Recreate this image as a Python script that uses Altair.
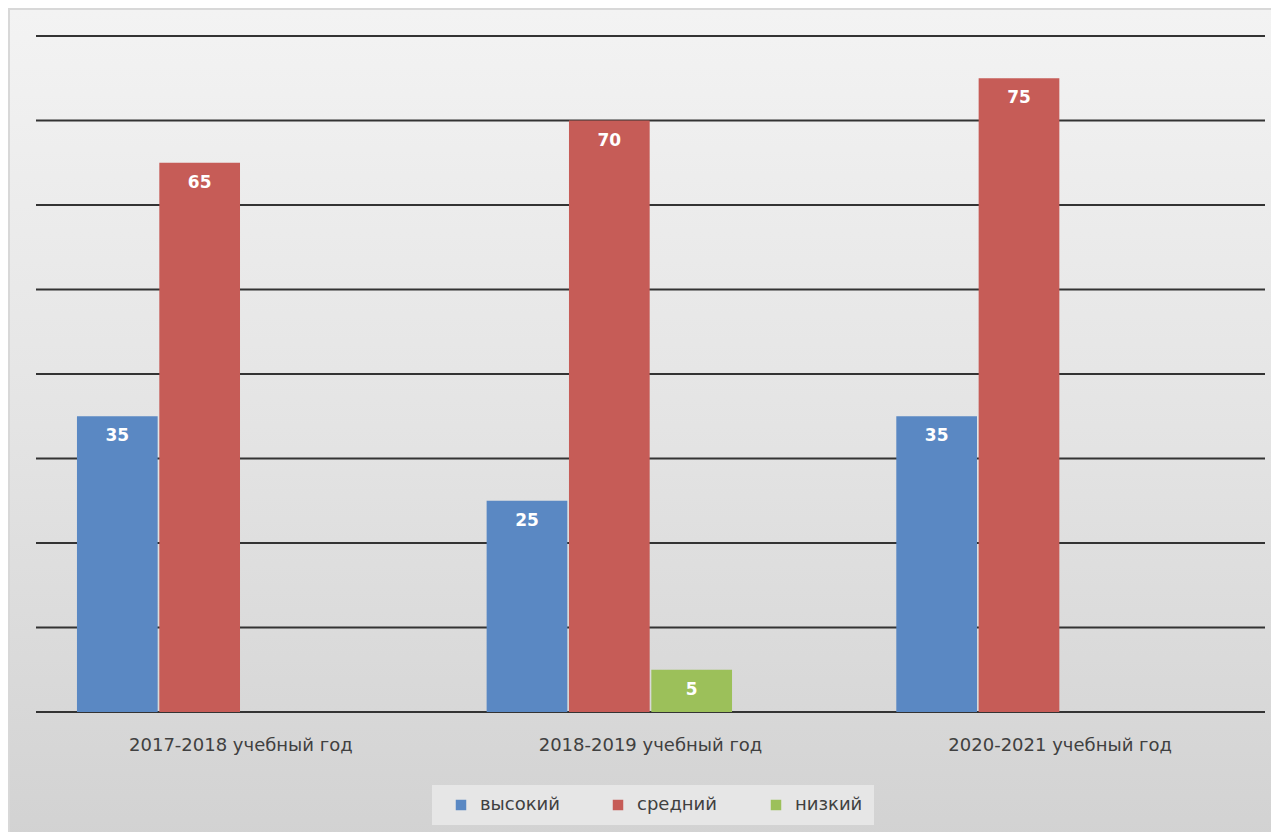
import altair as alt
import pandas as pd

categories = ["2017-2018 учебный год", "2018-2019 учебный год", "2020-2021 учебный год"]
series = ["высокий", "средний", "низкий"]
high = [35, 25, 35]
mid = [65, 70, 75]
low = [0, 5, 0]
grid_values = [0, 10, 20, 30, 40, 50, 60, 70, 80]
colors = ["#5a88c3", "#c65c57", "#9cc05a"]

rows = []
for i, c in enumerate(categories):
    for s, vals in zip(series, [high, mid, low]):
        if vals[i] > 0:
            rows.append({"cat": c, "series": s, "value": vals[i]})
df = pd.DataFrame(rows)

W, H = 1229, 676
FONT = "DejaVu Sans"

yscale = alt.Scale(domain=[0, 80])
xscale = alt.Scale(domain=categories, paddingInner=0.2, paddingOuter=0.1)
offscale = alt.Scale(domain=series + ["_"], paddingInner=0.02, paddingOuter=0)

bg = alt.Chart(alt.Data(values=[{}])).mark_rect(
    fill=alt.Gradient(
        gradient="linear",
        stops=[alt.GradientStop(color="#f3f3f3", offset=0),
               alt.GradientStop(color="#e4e4e4", offset=0.5),
               alt.GradientStop(color="#d2d2d2", offset=1)],
        x1=0, x2=0, y1=0, y2=1),
    clip=False,
).encode(x=alt.value(-26), x2=alt.value(W + 6), y=alt.value(-26), y2=alt.value(H + 130))

grid = alt.Chart(pd.DataFrame({"v": grid_values})).mark_rule(
    color="#333333", strokeWidth=2
).encode(y=alt.Y("v:Q", scale=yscale, axis=None))

base = alt.Chart(df).encode(
    x=alt.X("cat:N", scale=xscale, sort=categories,
            axis=alt.Axis(title=None, labelAngle=0, domain=False, ticks=False,
                          labelFontSize=18, labelColor="#404040", labelFont=FONT,
                          labelPadding=24, labelLimit=500, zindex=2)),
    xOffset=alt.XOffset("series:N", scale=offscale),
    y=alt.Y("value:Q", scale=yscale, axis=None),
)

bars = base.mark_bar().encode(
    color=alt.Color("series:N", scale=alt.Scale(domain=series, range=colors),
                    legend=alt.Legend(title=None, orient="none", direction="horizontal",
                                      legendX=396, legendY=749, symbolType="square",
                                      symbolSize=110, labelFontSize=18, labelColor="#404040",
                                      labelFont=FONT, fillColor="#e6e6e6", padding=11,
                                      columnPadding=40, labelOffset=10, symbolStrokeWidth=0,
                                      symbolOffset=9, zindex=2))
)

text = base.mark_text(baseline="top", dy=12, color="white", fontWeight="bold",
                      fontSize=17, font=FONT).encode(text="value:Q")

chart = alt.layer(bg, grid, bars, text).properties(
    width=W, height=H,
    autosize=alt.AutoSizeParams(type="none"),
    padding={"left": 28, "top": 28, "right": 6, "bottom": 120},
).configure_view(stroke=None).configure(background="#d8d8d8")

chart.save("out.html", embed_options={"renderer": "svg", "actions": False})
